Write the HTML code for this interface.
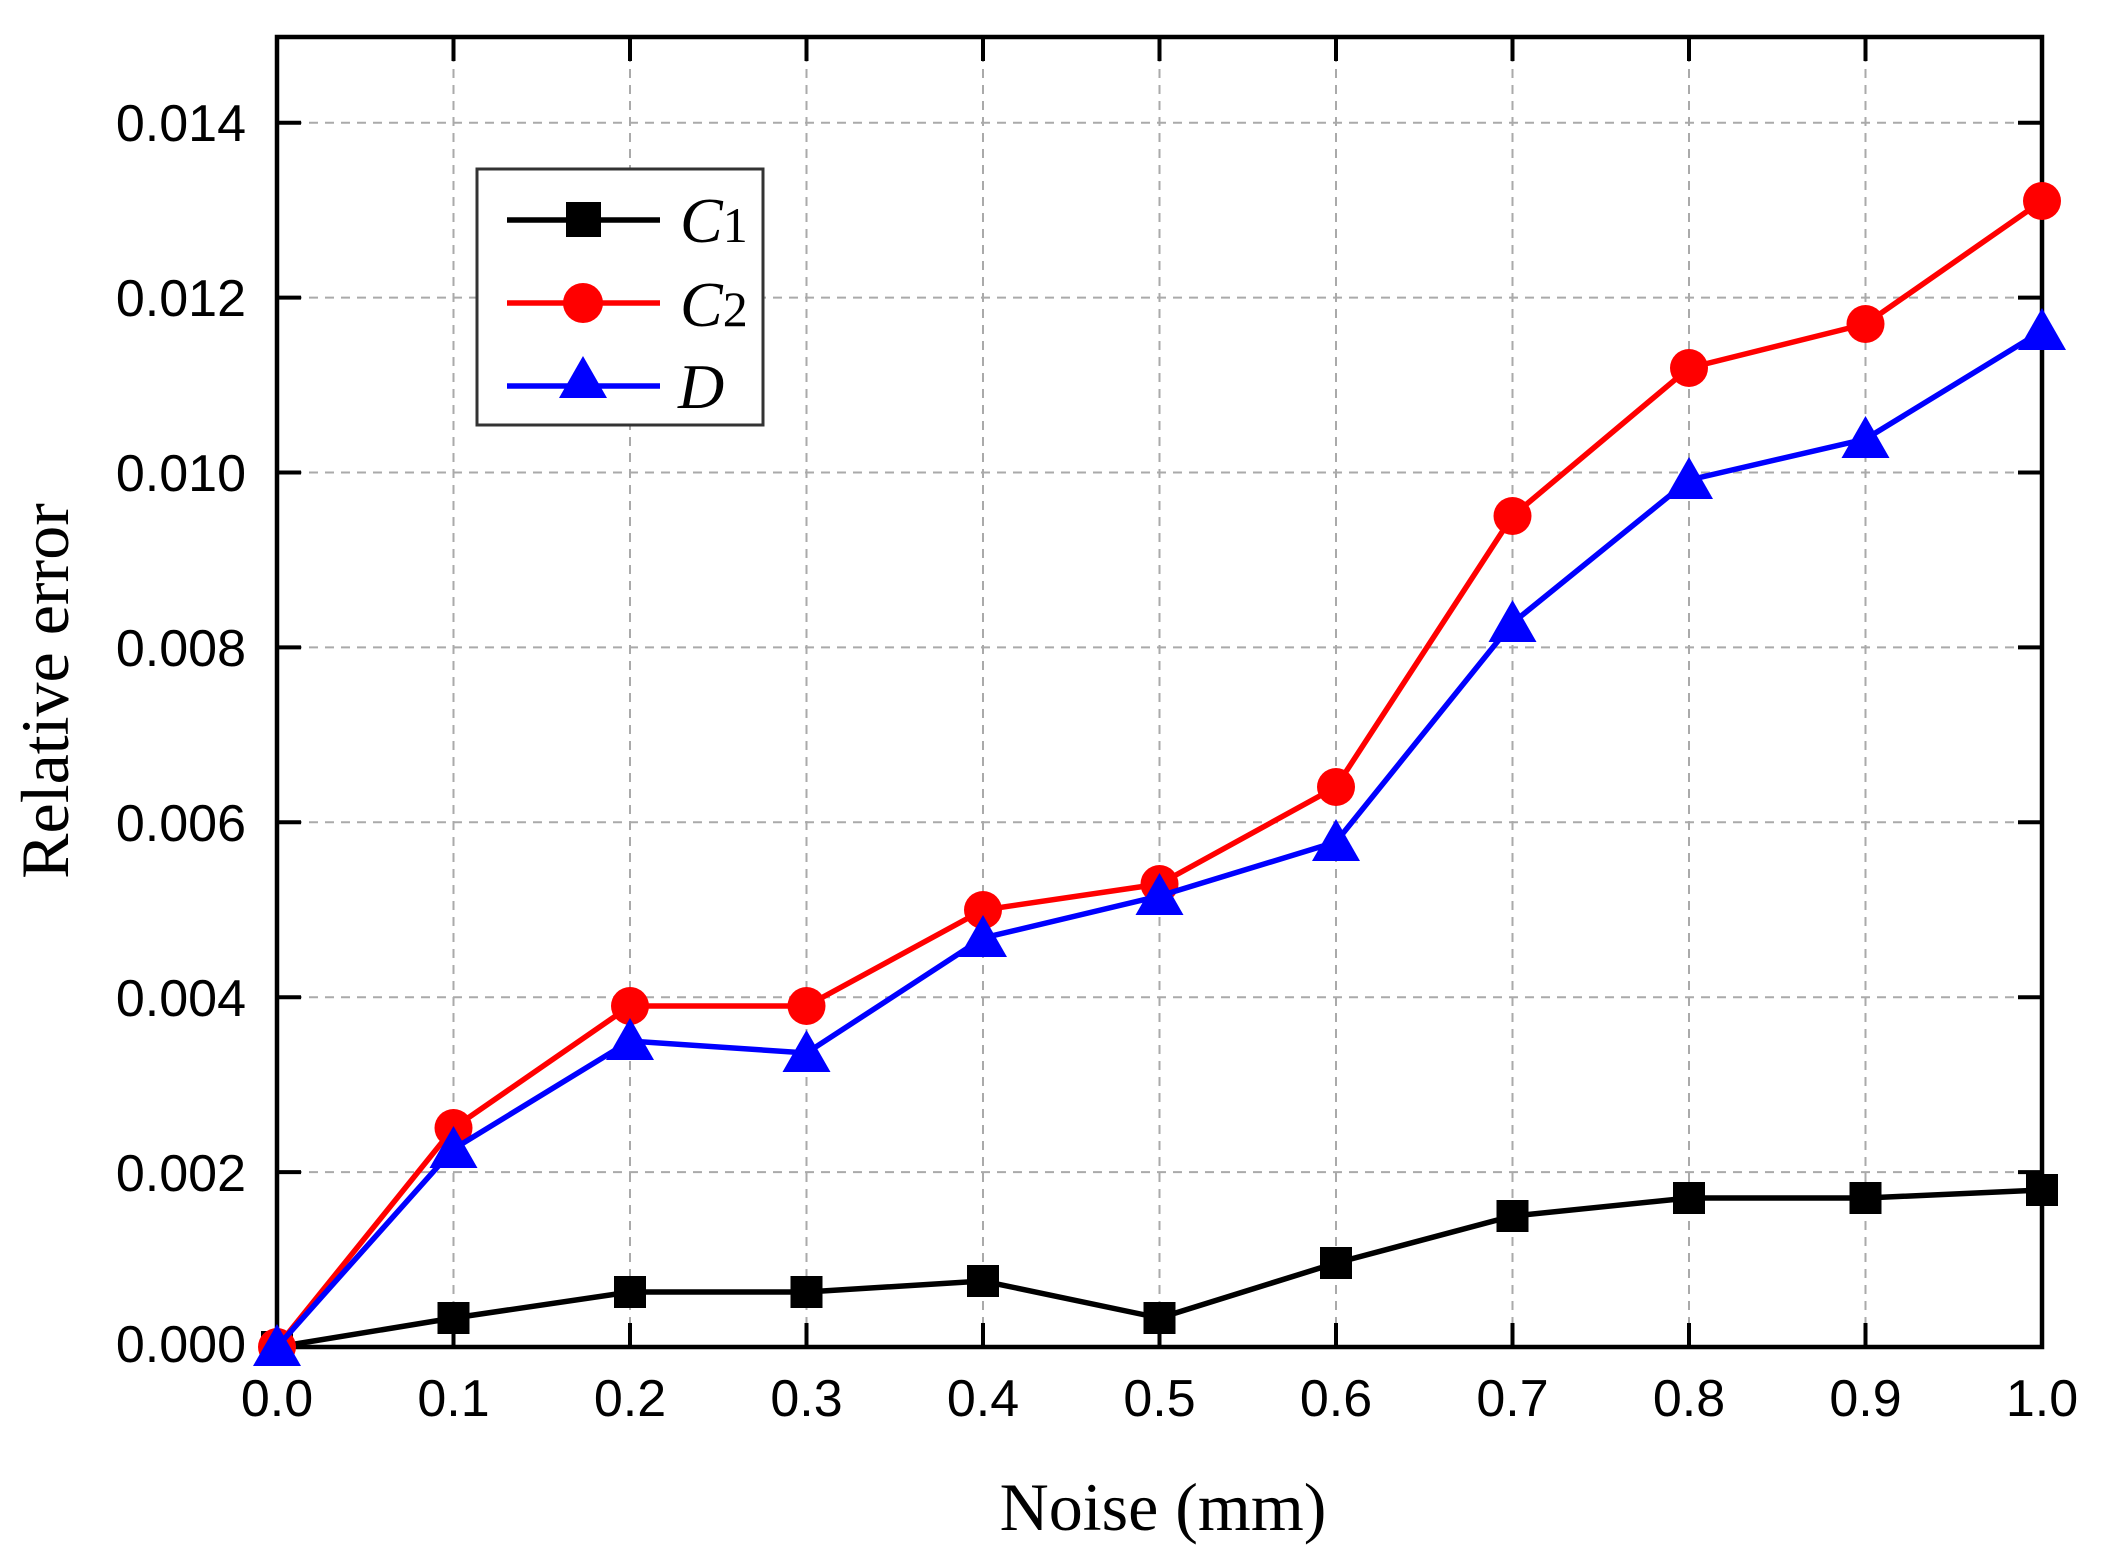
<!DOCTYPE html>
<html><head><meta charset="utf-8"><style>
html,body{margin:0;padding:0;background:#fff;}
svg{display:block;}
</style></head><body>
<svg width="2106" height="1558" viewBox="0 0 2106 1558" xmlns="http://www.w3.org/2000/svg">
<rect width="2106" height="1558" fill="#fff"/>
<g stroke="#aaa" stroke-width="2" stroke-dasharray="9,7" fill="none">
<line x1="277" y1="122.7" x2="2042" y2="122.7"/>
<line x1="277" y1="297.6" x2="2042" y2="297.6"/>
<line x1="277" y1="472.5" x2="2042" y2="472.5"/>
<line x1="277" y1="647.4" x2="2042" y2="647.4"/>
<line x1="277" y1="822.3" x2="2042" y2="822.3"/>
<line x1="277" y1="997.2" x2="2042" y2="997.2"/>
<line x1="277" y1="1172.1" x2="2042" y2="1172.1"/>
<line x1="453.5" y1="37" x2="453.5" y2="1347"/>
<line x1="630" y1="37" x2="630" y2="1347"/>
<line x1="806.5" y1="37" x2="806.5" y2="1347"/>
<line x1="983" y1="37" x2="983" y2="1347"/>
<line x1="1159.5" y1="37" x2="1159.5" y2="1347"/>
<line x1="1336" y1="37" x2="1336" y2="1347"/>
<line x1="1512.5" y1="37" x2="1512.5" y2="1347"/>
<line x1="1689" y1="37" x2="1689" y2="1347"/>
<line x1="1865.5" y1="37" x2="1865.5" y2="1347"/>
</g>
<g stroke="#000" stroke-width="4">
<path d="M277,122.7h24M277,297.6h24M277,472.5h24M277,647.4h24M277,822.3h24M277,997.2h24M277,1172.1h24"/>
<path d="M2042,122.7h-24M2042,297.6h-24M2042,472.5h-24M2042,647.4h-24M2042,822.3h-24M2042,997.2h-24M2042,1172.1h-24"/>
<path d="M453.5,1347v-24M630,1347v-24M806.5,1347v-24M983,1347v-24M1159.5,1347v-24M1336,1347v-24M1512.5,1347v-24M1689,1347v-24M1865.5,1347v-24"/>
<path d="M453.5,37v24M630,37v24M806.5,37v24M983,37v24M1159.5,37v24M1336,37v24M1512.5,37v24M1689,37v24M1865.5,37v24"/>
</g>
<rect x="277" y="37" width="1765" height="1310" fill="none" stroke="#000" stroke-width="4.5"/>
<g font-family="Liberation Sans, Arial, sans-serif" font-size="52" fill="#000">
<g text-anchor="end">
<text x="246" y="141">0.014</text>
<text x="246" y="316">0.012</text>
<text x="246" y="491">0.010</text>
<text x="246" y="666">0.008</text>
<text x="246" y="841">0.006</text>
<text x="246" y="1016">0.004</text>
<text x="246" y="1191">0.002</text>
<text x="246" y="1362">0.000</text>
</g>
<g text-anchor="middle">
<text x="277" y="1416">0.0</text>
<text x="453.5" y="1416">0.1</text>
<text x="630" y="1416">0.2</text>
<text x="806.5" y="1416">0.3</text>
<text x="983" y="1416">0.4</text>
<text x="1159.5" y="1416">0.5</text>
<text x="1336" y="1416">0.6</text>
<text x="1512.5" y="1416">0.7</text>
<text x="1689" y="1416">0.8</text>
<text x="1865.5" y="1416">0.9</text>
<text x="2042" y="1416">1.0</text>
</g>
</g>
<g font-family="Liberation Serif, 'Times New Roman', serif" font-size="68" fill="#000" text-anchor="middle">
<text x="1163" y="1530">Noise (mm)</text>
<text transform="translate(68,691) rotate(-90)">Relative error</text>
</g>
<!-- C1 -->
<polyline fill="none" stroke="#000" stroke-width="5.5" points="277,1347 453.5,1318 630,1292 806.5,1292 983,1281 1159.5,1318 1336,1263 1512.5,1216 1689,1198 1865.5,1198 2042,1190"/>
<g fill="#000">
<rect x="261" y="1331" width="32" height="32"/>
<rect x="437.5" y="1302" width="32" height="32"/>
<rect x="614" y="1276" width="32" height="32"/>
<rect x="790.5" y="1276" width="32" height="32"/>
<rect x="967" y="1265" width="32" height="32"/>
<rect x="1143.5" y="1302" width="32" height="32"/>
<rect x="1320" y="1247" width="32" height="32"/>
<rect x="1496.5" y="1200" width="32" height="32"/>
<rect x="1673" y="1182" width="32" height="32"/>
<rect x="1849.5" y="1182" width="32" height="32"/>
<rect x="2026" y="1174" width="32" height="32"/>
</g>
<!-- C2 -->
<polyline fill="none" stroke="#f00" stroke-width="5.5" points="277,1347 453.5,1128 630,1006 806.5,1006 983,910 1159.5,884 1336,787 1512.5,516 1689,368 1865.5,324 2042,201"/>
<g fill="#f00">
<circle cx="277" cy="1347" r="19"/>
<circle cx="453.5" cy="1128" r="19"/>
<circle cx="630" cy="1006" r="19"/>
<circle cx="806.5" cy="1006" r="19"/>
<circle cx="983" cy="910" r="19"/>
<circle cx="1159.5" cy="884" r="19"/>
<circle cx="1336" cy="787" r="19"/>
<circle cx="1512.5" cy="516" r="19"/>
<circle cx="1689" cy="368" r="19"/>
<circle cx="1865.5" cy="324" r="19"/>
<circle cx="2042" cy="201" r="19"/>
</g>
<!-- D -->
<polyline fill="none" stroke="#00f" stroke-width="5.5" points="277,1347 453.5,1149 630,1041 806.5,1053 983,938 1159.5,896 1336,842 1512.5,623 1689,480 1865.5,439 2042,331"/>
<g fill="#00f">
<path d="M277,1324 l24,42 h-48z"/>
<path d="M453.5,1126 l24,42 h-48z"/>
<path d="M630,1018 l24,42 h-48z"/>
<path d="M806.5,1030 l24,42 h-48z"/>
<path d="M983,915 l24,42 h-48z"/>
<path d="M1159.5,873 l24,42 h-48z"/>
<path d="M1336,819 l24,42 h-48z"/>
<path d="M1512.5,600 l24,42 h-48z"/>
<path d="M1689,457 l24,42 h-48z"/>
<path d="M1865.5,416 l24,42 h-48z"/>
<path d="M2042,308 l24,42 h-48z"/>
</g>
<!-- Legend -->
<rect x="477" y="169" width="286" height="256" fill="#fff" stroke="#333" stroke-width="3"/>
<line x1="507" y1="220" x2="660" y2="220" stroke="#000" stroke-width="5.5"/>
<rect x="566" y="202" width="35" height="35" fill="#000"/>
<line x1="507" y1="303" x2="660" y2="303" stroke="#f00" stroke-width="5.5"/>
<circle cx="583" cy="303" r="20" fill="#f00"/>
<line x1="507" y1="386" x2="660" y2="386" stroke="#00f" stroke-width="5.5"/>
<path d="M583,356 l24,42 h-48z" fill="#00f"/>
<g font-family="Liberation Serif, 'Times New Roman', serif" font-size="64" font-style="italic" fill="#000">
<text x="680" y="242">C<tspan font-style="normal" font-size="50">1</tspan></text>
<text x="680" y="326">C<tspan font-style="normal" font-size="50">2</tspan></text>
<text x="678" y="408">D</text>
</g>
</svg>
</body></html>
